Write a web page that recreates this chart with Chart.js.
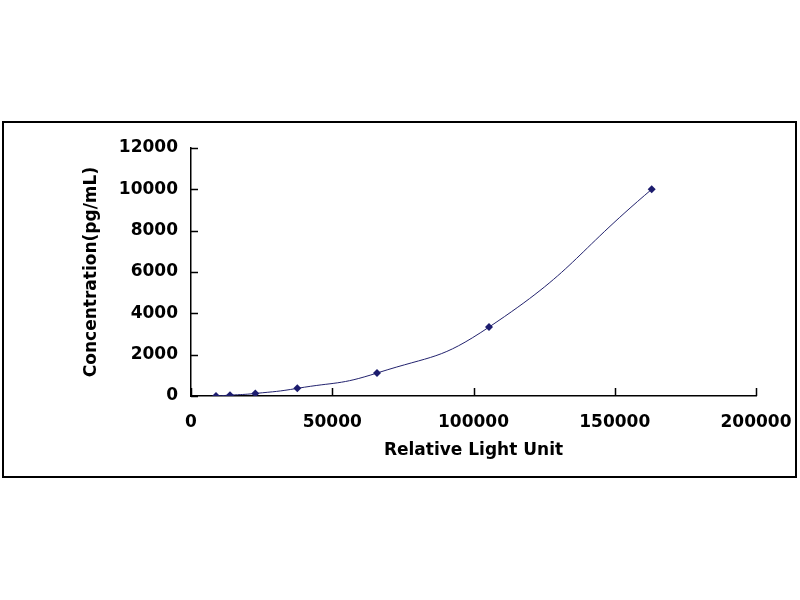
<!DOCTYPE html>
<html>
<head>
<meta charset="utf-8">
<script src="https://cdn.jsdelivr.net/npm/chart.js@4/dist/chart.umd.min.js"></script>
<style>
  html, body { margin: 0; padding: 0; background: #fff; }
  #wrap { width: 800px; height: 600px; }
</style>
</head>
<body>
<div id="wrap"><canvas id="stdCurve" width="800" height="600"></canvas></div>
<script>
// standard curve readings
const rlu = [8850, 13800, 22770, 37630, 65840, 105490, 163080];
const conc = [0, 41, 123, 370, 1111, 3333, 10000];

const xTicks = [0, 50000, 100000, 150000, 200000];
const yTicks = [0, 2000, 4000, 6000, 8000, 10000, 12000];

const fontFamily = '"DejaVu Sans", Arial, sans-serif';

// outer frame + inward tick marks like the Excel original
Chart.register({

    id: 'frameAndTicks',

    beforeDraw(chart) {
        const {ctx} = chart;
        ctx.save();
        ctx.fillStyle = '#fff';
        ctx.fillRect(0, 0, chart.width, chart.height);
        ctx.strokeStyle = '#000';
        ctx.lineWidth = 2;
        ctx.strokeRect(3, 122, 793, 355);
        ctx.restore();
    },

    afterDraw(chart) {
        const {ctx} = chart;
        const xs = chart.scales.x;
        const ys = chart.scales.y;
        const area = chart.chartArea;

        ctx.save();
        ctx.strokeStyle = '#000';
        ctx.lineWidth = 1.5;
        ctx.beginPath();

        yTicks.forEach(v => {
            const py = Math.round(ys.getPixelForValue(v)) + 0.5;
            ctx.moveTo(area.left, py);
            ctx.lineTo(area.left + 7, py);
        });

        xTicks.forEach(v => {
            const px = Math.round(xs.getPixelForValue(v)) + 0.5;
            ctx.moveTo(px, area.bottom);
            ctx.lineTo(px, area.bottom - 8);
        });

        ctx.stroke();
        ctx.restore();
    }

});

const points = rlu.map((x, i) => ({x: x, y: conc[i]}));

new Chart(document.getElementById('stdCurve'), {
    type: 'scatter',

    data: {
        datasets: [{
            label: 'Standard',
            data: points,
            showLine: true,
            tension: 0.5,
            borderColor: '#22226e',
            borderWidth: 1,
            backgroundColor: '#1c1c6e',
            pointStyle: 'rectRot',
            pointRadius: 4,
            pointBorderWidth: 0
        }]
    },

    options: {

        responsive: false,
        animation: false,

        layout: {
            padding: {left: 81, top: 148, right: 44, bottom: 139}
        },

        plugins: {
            legend: {display: false},
            tooltip: {enabled: false}
        },

        scales: {

            x: {
                type: 'linear',
                min: 0,
                max: 200000,
                afterBuildTicks(scale) {
                    scale.ticks = xTicks.map(v => ({value: v}));
                },
                afterFit(scale) {
                    scale.height = 65;
                    // let the last label hang past the plot edge
                    scale.paddingLeft = 0;
                    scale.paddingRight = 0;
                },
                ticks: {
                    color: '#000',
                    padding: 16,
                    maxRotation: 0,
                    font: {family: fontFamily, size: 17, weight: 'bold'},
                    callback: v => String(v)
                },
                grid: {display: false, drawTicks: false},
                border: {display: true, color: '#000', width: 1.5},
                title: {
                    display: true,
                    text: 'Relative Light Unit',
                    color: '#000',
                    padding: 0,
                    font: {family: fontFamily, size: 17, weight: 'bold'}
                }
            },

            y: {
                type: 'linear',
                min: 0,
                max: 12000,
                afterBuildTicks(scale) {
                    scale.ticks = yTicks.map(v => ({value: v}));
                },
                afterFit(scale) {
                    scale.width = 110;
                },
                ticks: {
                    color: '#000',
                    padding: 13,
                    font: {family: fontFamily, size: 17, weight: 'bold'},
                    callback: v => String(v)
                },
                grid: {display: false, drawTicks: false},
                border: {display: true, color: '#000', width: 1.5},
                title: {
                    display: true,
                    text: 'Concentration(pg/mL)',
                    color: '#000',
                    padding: 0,
                    font: {family: fontFamily, size: 17, weight: 'bold'}
                }
            }

        }

    }

});
</script>
</body>
</html>
